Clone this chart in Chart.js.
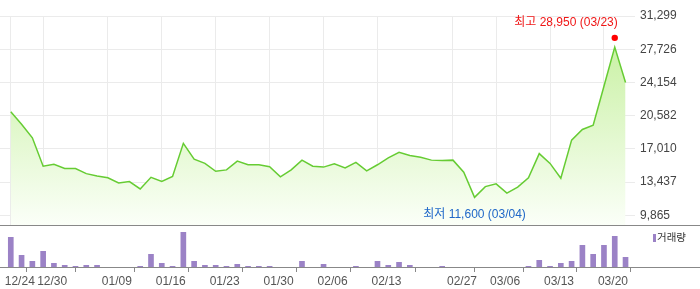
<!DOCTYPE html>
<html>
<head>
<meta charset="utf-8">
<script src="https://cdn.jsdelivr.net/npm/chart.js@4/dist/chart.umd.min.js"></script>
<style>
html,body{margin:0;padding:0;background:#fff;}
#wrap{position:relative;width:700px;height:289px;}
canvas{position:absolute;left:0;}
#price{top:0;}
#volume{top:225px;}
</style>
</head>
<body>
<div id="wrap">
  <canvas id="price" width="700" height="226"></canvas>
  <canvas id="volume" width="700" height="64"></canvas>
</div>
<script>
// trading days shown on the chart
const dates = ["12/24","12/26","12/27","12/30","01/02","01/03","01/06","01/07","01/08","01/09",
  "01/10","01/13","01/14","01/15","01/16","01/17","01/20","01/21","01/22","01/23",
  "01/24","01/27","01/28","01/29","01/30","01/31","02/03","02/04","02/05","02/06",
  "02/07","02/10","02/11","02/12","02/13","02/14","02/17","02/18","02/19","02/20",
  "02/21","02/27","02/28","03/04","03/05","03/06","03/09","03/10","03/11","03/12",
  "03/13","03/16","03/17","03/18","03/19","03/20","03/23","03/24"];
const tickDates = ["12/24","12/30","01/09","01/16","01/23","01/30","02/06","02/13","02/27","03/06","03/13","03/20"];
const prices = [21000,19650,18200,15150,15350,14900,14900,14350,14100,13900,
  13350,13500,12700,13950,13500,14050,17600,15900,15450,14600,
  14750,15700,15300,15300,15100,14000,14750,15800,15150,15050,
  15400,14950,15550,14650,15300,16050,16650,16300,16100,15800,
  15750,15800,14500,11800,12950,13250,12250,12900,13900,16500,
  15450,13850,17950,19100,19550,23750,27950,24150];
// volume, thousand shares
const volumes = [1535,635,335,835,235,135,85,135,135,35,
  35,35,85,685,235,85,1785,335,135,135,
  85,185,85,85,85,35,35,335,35,185,
  35,35,85,35,335,135,285,135,35,35,
  85,35,35,35,35,35,0,0,85,385,
  85,235,335,1135,685,1135,1585,535];
const priceTicks = [9865,13437,17010,20582,24154,27726,31299];
const highDate = "03/23", highValue = 28950;
const lowDate = "03/04", lowValue = 11600;

const FONT = "'Liberation Sans', Arial, 'Noto Sans CJK KR', sans-serif";
Chart.defaults.font.family = FONT;
Chart.defaults.font.size = 12;

const tickIdx = tickDates.map(d => dates.indexOf(d));
const hiIdx = dates.indexOf(highDate), loIdx = dates.indexOf(lowDate);

const xBase = {
  type: 'linear', min: -1, max: 57.6, offset: false,
  afterBuildTicks: s => { s.ticks = tickIdx.map(v => ({value: v})); }
};

const hiLoText = {
  id: 'hiLoText',
  afterDatasetsDraw(chart) {
    const {ctx, scales: {x, y}, chartArea} = chart;
    ctx.save();
    ctx.font = "12px " + FONT;
    ctx.textBaseline = 'middle';
    // high
    let t = '최고 ' + highValue.toLocaleString('en-US') + ' (' + highDate + ')';
    let px = x.getPixelForValue(hiIdx), py = y.getPixelForValue(highValue);
    let w = ctx.measureText(t).width;
    ctx.fillStyle = '#f01616';
    if (px + w / 2 > chartArea.right) { ctx.textAlign = 'right'; ctx.fillText(t, px + 3, py - 15); }
    else { ctx.textAlign = 'center'; ctx.fillText(t, px, py - 15); }
    // low
    t = '최저 ' + lowValue.toLocaleString('en-US') + ' (' + lowDate + ')';
    px = x.getPixelForValue(loIdx); py = y.getPixelForValue(lowValue);
    ctx.fillStyle = '#2068c8';
    ctx.textAlign = 'center';
    ctx.fillText(t, px, py + 16);
    ctx.restore();
  }
};

new Chart("price", {
  type: 'line',
  data: {
    datasets: [{
      data: prices.map((v, i) => ({x: i, y: v})),
      borderColor: '#66cc33',
      borderWidth: 1.5,
      pointRadius: 0,
      tension: 0,
      fill: 'start',
      backgroundColor: ctx => {
        const a = ctx.chart.chartArea;
        if (!a) return '#e4f8d2';
        const g = ctx.chart.ctx.createLinearGradient(0, a.top, 0, a.bottom);
        g.addColorStop(0, '#c2ef98');
        g.addColorStop(1, '#fbfff8');
        return g;
      }
    }, {
      data: [{x: hiIdx, y: highValue}],
      showLine: false, pointRadius: 3.2, pointBorderWidth: 0,
      pointBackgroundColor: '#ff0000'
    }, {
      data: [{x: loIdx, y: lowValue}],
      showLine: false, pointRadius: 3.2, pointBorderWidth: 0,
      pointBackgroundColor: '#1660d8'
    }]
  },
  options: {
    responsive: false, animation: false, devicePixelRatio: 1,
    layout: {autoPadding: false, padding: {top: 16, bottom: 1, left: 0, right: 0}},
    plugins: {legend: {display: false}, tooltip: {enabled: false}},
    scales: {
      x: Object.assign({}, xBase, {
        ticks: {display: false},
        grid: {color: '#ebebeb', drawTicks: false},
        border: {display: false},
        afterFit: s => { s.height = 0; s.paddingLeft = 0; s.paddingRight = 0; }
      }),
      y: {
        position: 'right', min: 8824, max: 31299,
        afterBuildTicks: s => { s.ticks = priceTicks.map(v => ({value: v})); },
        afterFit: s => { s.width = 68; s.paddingTop = 0; s.paddingBottom = 0; },
        ticks: {padding: 5, color: '#444', callback: v => v.toLocaleString('en-US')},
        grid: {color: '#ebebeb', drawTicks: true, tickLength: 3, tickColor: '#ebebeb'},
        border: {display: false}
      }
    }
  },
  plugins: [hiLoText]
});

const volFrame = {
  id: 'volFrame',
  beforeDatasetsDraw(chart) {
    const {ctx} = chart;
    ctx.save();
    ctx.fillStyle = '#888';
    ctx.fillRect(0, 0, chart.width, 1);
    ctx.restore();
  },
  afterDatasetsDraw(chart) {
    const {ctx, chartArea} = chart;
    ctx.save();
    ctx.fillStyle = '#888';
    ctx.fillRect(0, chartArea.bottom - 1, chart.width, 1);
    // legend
    ctx.fillStyle = '#9b82c6';
    ctx.fillRect(653, 9, 3, 8);
    ctx.fillStyle = '#333';
    ctx.font = "10.5px " + FONT;
    ctx.textBaseline = 'middle';
    ctx.textAlign = 'left';
    ctx.fillText('거래량', 657, 13.5);
    ctx.restore();
  }
};

new Chart("volume", {
  type: 'bar',
  data: {
    datasets: [{
      data: volumes.map((v, i) => ({x: i, y: v})),
      backgroundColor: '#9b82c6',
      barThickness: 5
    }]
  },
  options: {
    responsive: false, animation: false, devicePixelRatio: 1,
    layout: {autoPadding: false, padding: {top: 0, bottom: 0, left: 0, right: 68}},
    plugins: {legend: {display: false}, tooltip: {enabled: false}},
    scales: {
      x: Object.assign({}, xBase, {
        ticks: {padding: 2, color: '#555', maxRotation: 0, autoSkip: false, labelOffset: 9,
          callback: v => dates[v]},
        grid: {drawOnChartArea: false, drawTicks: true, tickLength: 4, color: '#888'},
        border: {display: false},
        afterFit: s => { s.height = 21; s.paddingLeft = 0; s.paddingRight = 0; }
      }),
      y: {display: false, min: 0, max: 2150,
        afterFit: s => { s.paddingTop = 0; s.paddingBottom = 0; }}
    }
  },
  plugins: [volFrame]
});
</script>
</body>
</html>
